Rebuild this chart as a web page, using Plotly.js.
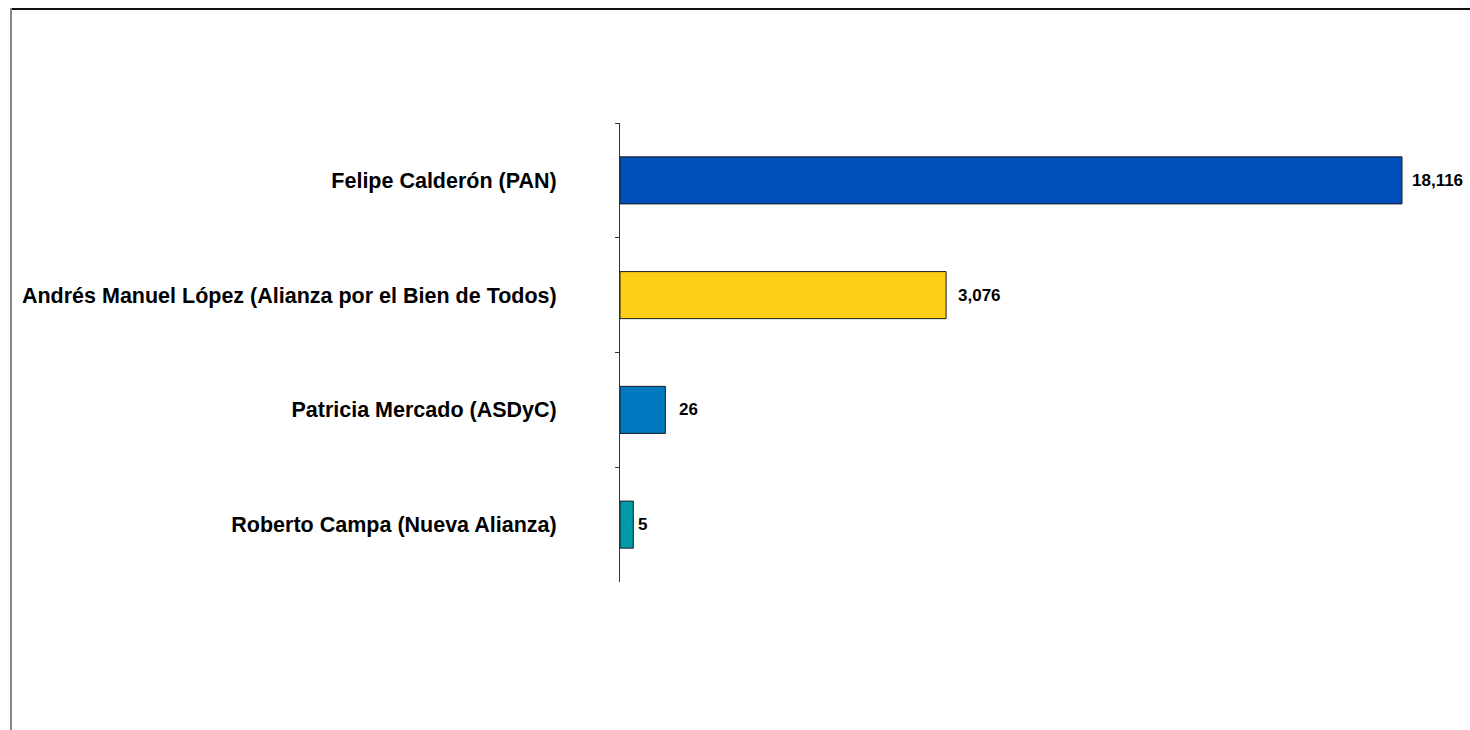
<!DOCTYPE html>
<html>
<head>
<meta charset="utf-8">
<script src="https://cdn.plot.ly/plotly-3.0.1.min.js"></script>
<style>
  html, body { margin: 0; padding: 0; background: #fff; }
  #wrap { position: relative; width: 1470px; height: 730px; overflow: hidden; }
  #chart { position: absolute; left: 0; top: 0; width: 1470px; height: 730px; }
  #frameTop { position: absolute; left: 11px; top: 8px; width: 1459px; height: 0; border-top: 2px solid #111; }
  #frameLeft { position: absolute; left: 10px; top: 8px; width: 0; height: 722px; border-left: 2px solid #888; }
</style>
</head>
<body>
<div id="wrap">
  <div id="chart"></div>
  <div id="frameTop"></div>
  <div id="frameLeft"></div>
</div>
<script>
// Candidates (top to bottom)
var categories = [
  "Felipe Calderón (PAN)",
  "Andrés Manuel López (Alianza por el Bien de Todos)",
  "Patricia Mercado (ASDyC)",
  "Roberto Campa (Nueva Alianza)"
];
// Values printed next to each bar
var values = [18116, 3076, 26, 5];
// Bar lengths as drawn in the reference, relative to the longest bar (= 100)
var barScale = [100, 41.7, 5.8, 1.7];
var barColors = ["#0050BC", "#FDD017", "#0079C1", "#0099A8"];

function fmt(v) { return v.toLocaleString("en-US"); }

var trace = {
  type: "bar",
  orientation: "h",
  y: categories,
  x: barScale,
  marker: { color: barColors, line: { color: "#1a1a1a", width: 1 } },
  width: 0.41,
  hoverinfo: "skip"
};

var annotations = categories.map(function (c, i) {
  return {
    x: barScale[i], y: c, xref: "x", yref: "y",
    text: "<b>" + fmt(values[i]) + "</b>",
    showarrow: false, xanchor: "left", yanchor: "middle",
    xshift: [8, 10, 12, 3][i], yshift: 0,
    font: { family: "Liberation Sans, Arial, sans-serif", size: 17, color: "#000" }
  };
});

var layout = {
  width: 1470, height: 730,
  margin: { l: 620, r: 30, t: 123, b: 148, pad: 0 },
  paper_bgcolor: "#fff", plot_bgcolor: "#fff",
  showlegend: false,
  bargap: 0.59,
  xaxis: {
    range: [0, 104.86], visible: false, fixedrange: true
  },
  yaxis: {
    type: "category",
    categoryorder: "array", categoryarray: categories,
    autorange: false, range: [3.5, -0.5],
    showline: true, linecolor: "#333", linewidth: 1,
    ticks: "outside", ticklen: 4, tickcolor: "#333", tickwidth: 1,
    tickson: "boundaries",
    showgrid: false, zeroline: false,
    ticklabelstandoff: 58,
    tickfont: { family: "Liberation Sans, Arial, sans-serif", size: 21.5, color: "#000", weight: "bold" }
  },
  annotations: annotations
};

Plotly.newPlot("chart", [trace], layout, { displayModeBar: false, staticPlot: true });
</script>
</body>
</html>
